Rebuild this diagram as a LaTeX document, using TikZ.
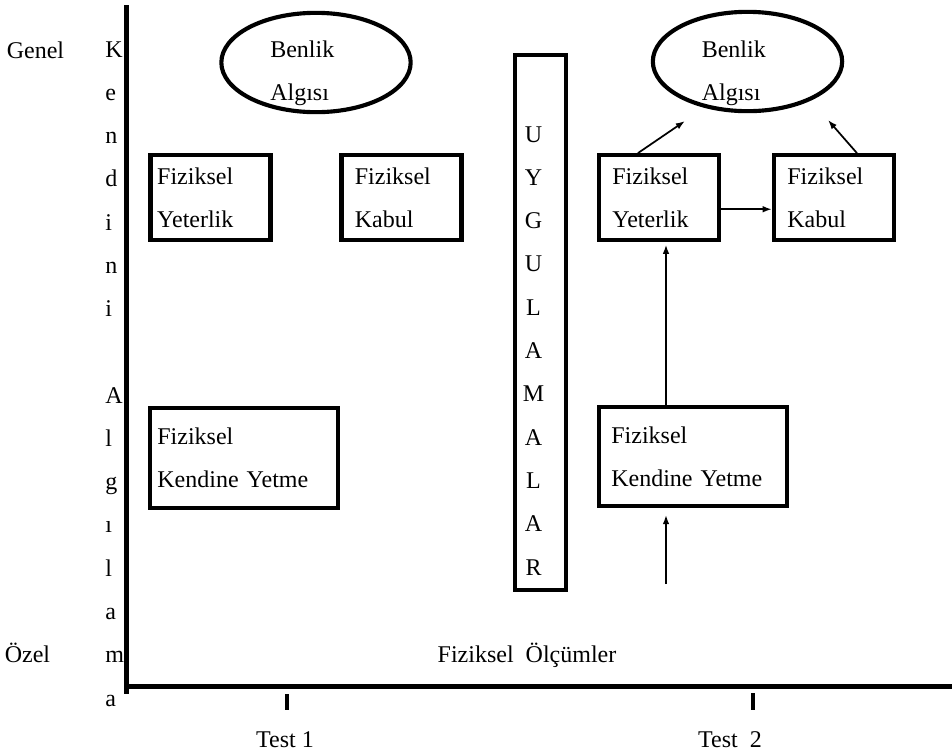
\documentclass[tikz,border=0pt]{standalone}
\usepackage{fontspec}
\setmainfont{Liberation Serif}
\usetikzlibrary{shapes.geometric,arrows.meta,calc}

\begin{document}
\begin{tikzpicture}[
    x=0.75pt, y=-0.75pt,
    font=\fontsize{18}{32.25}\selectfont,
    fizbox/.style={draw, rectangle, line width=3.1pt, align=left, inner ysep=0pt, minimum width=90pt, minimum height=63.5pt, inner xsep=#1, text width=90pt-2*#1},
    fizbox/.default=10pt,
    widebox/.style={fizbox=#1, minimum width=141.5pt, minimum height=74.5pt, text width=141.5pt-2*#1},
    widebox/.default=10pt,
    selfell/.style={draw, ellipse, line width=3.1pt, minimum width=142pt, minimum height=74.5pt, inner sep=0pt},
    elltext/.style={anchor=base west, align=left, text width=66pt, inner sep=0pt},
    letter/.style={inner sep=0pt},
    axis/.style={line width=3.6pt},
    arr/.style={-{Latex[length=7pt, width=5pt]}, line width=1.3pt}
]
\useasboundingbox (0,0) rectangle (952,754);

% axes and ticks
\draw[axis] (126.5,5) -- (126.5,694);
\draw[axis] (124.5,686.5) -- (952,686.5);
\draw[axis] (287,694) -- (287,710);
\draw[axis] (753,693) -- (753,710);

% left scale
\node[anchor=base] (genel) at (35.5,58) {Genel};
\node[anchor=base] (ozel) at (27.5,662) {Özel};
\foreach \k/\ch in {0/K,1/e,2/n,3/d,4/i,5/n,6/i,8/A,9/l,10/g,11/ı,12/l,13/a,14/m,15/a}
  \node[letter, anchor=base west] (kal\k) at (105,{57+43.27*\k}) {\ch};

% test 1
\node[selfell] (ben1) at (316,62.5) {};
\node[elltext] (ben1t) at ($(ben1.center)+(-46,-5.5)$) {Benlik\\Algısı};
\node[fizbox=5pt] (fy1) at (210.5,197.5) {Fiziksel\\Yeterlik};
\node[fizbox] (fk1) at (401.5,197.5) {Fiziksel\\Kabul};
\node[widebox=5.8pt] (fky1) at (244,458) {Fiziksel\\Kendine Yetme};

% uygulamalar
\node[draw, line width=3.1pt, minimum width=38.2pt, minimum height=401pt, inner sep=0pt] (uyg) at (540.5,322.5) {};
\foreach \k/\ch in {0/U,1/Y,2/G,3/U,4/L,5/A,6/M,7/A,8/L,9/A,10/R}
  \node[letter, anchor=base] (uyg\k) at (533.5,{142+43.3*\k}) {\ch};

% test 2
\node[selfell] (ben2) at (747.5,61.5) {};
\node[elltext] (ben2t) at ($(ben2.center)+(-46,-4.5)$) {Benlik\\Algısı};
\node[fizbox] (fy2) at (659,197.5) {Fiziksel\\Yeterlik};
\node[fizbox] (fk2) at (834,197.5) {Fiziksel\\Kabul};
\node[widebox=9.5pt] (fky2) at (693,456.5) {Fiziksel\\Kendine Yetme};

\coordinate (ben2in1) at (685,121);
\coordinate (ben2in2) at (828,120);
\coordinate (olcin) at (666,584);
\draw[arr] ($(fy2.north west)+(41,0)$) -- (ben2in1);
\draw[arr] ($(fk2.north west)+(85,0)$) -- (ben2in2);
\draw[arr] ([yshift=-8.8pt]fy2.east) -- ([yshift=-8.8pt]fk2.west);
\draw[arr, shorten >=2pt] (olcin |- fky2.north) -- (olcin |- fy2.south);
\draw[arr, shorten >=5pt] (olcin) -- (olcin |- fky2.south);

% bottom labels
\node[anchor=base] (olc) at (527,662) {Fiziksel\ \ Ölçümler};
\node[anchor=base] (test1) at (285,747) {Test 1};
\node[anchor=base] (test2) at (730,747) {Test\ \ 2};
\end{tikzpicture}
\end{document}
